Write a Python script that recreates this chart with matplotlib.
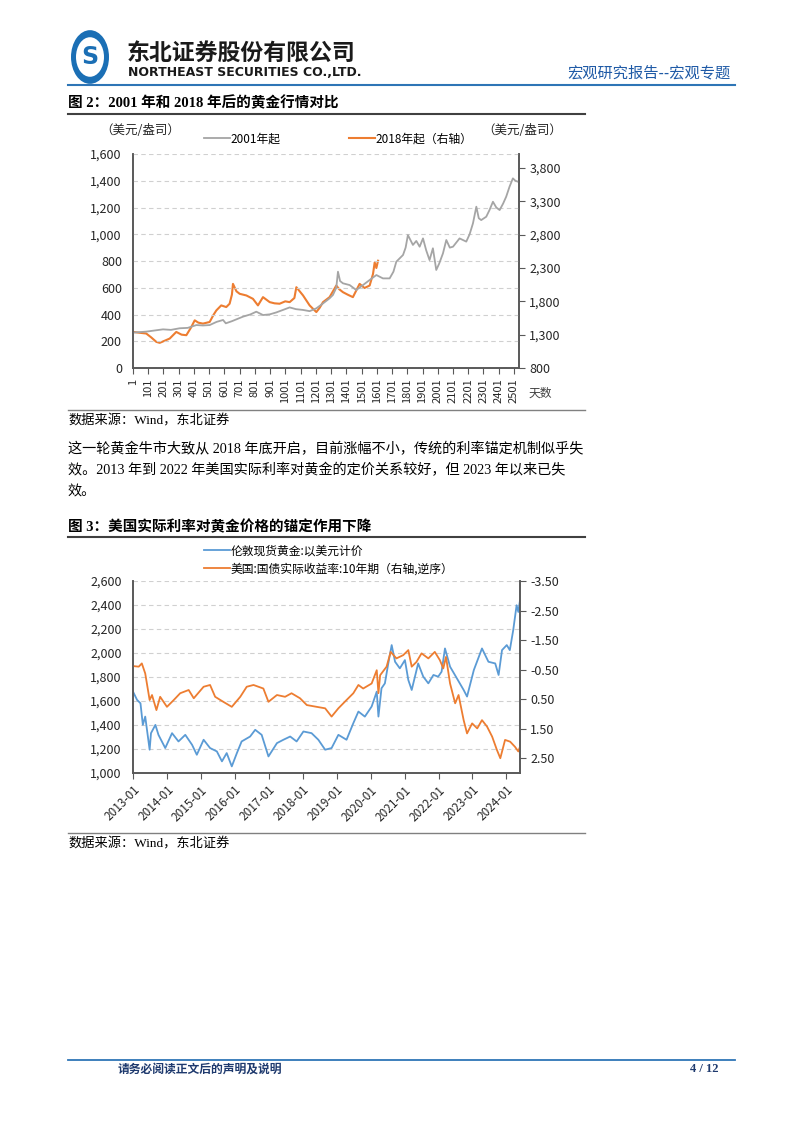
import matplotlib.pyplot as plt
import matplotlib.ticker as mticker
from matplotlib.patches import Circle
import numpy as np

plt.rcParams['font.family'] = ['Noto Sans CJK SC', 'DejaVu Sans']
plt.rcParams['axes.unicode_minus'] = False

# ---- figure 2 data: gold after 2001 vs after 2018 (trading days) ----
days_2001 = [1, 40, 88, 140, 198, 250, 307, 360, 417, 460, 504, 550, 592, 610,
             650, 723, 770, 810, 854, 898, 940, 985, 1029, 1070, 1117, 1160,
             1204, 1248, 1290, 1313, 1335, 1346, 1360, 1379, 1423, 1466, 1510,
             1554, 1598, 1641, 1685, 1710, 1729, 1773, 1790, 1805, 1838, 1860,
             1882, 1904, 1925, 1947, 1969, 1991, 2010, 2035, 2057, 2080, 2101,
             2144, 2188, 2210, 2232, 2254, 2270, 2286, 2319, 2340, 2363, 2385,
             2407, 2430, 2450, 2472, 2494, 2510, 2527]
gold_2001 = [265, 268, 272, 280, 289, 285, 297, 300, 321, 318, 321, 345, 359,
             334, 350, 384, 400, 421, 396, 401, 415, 434, 453, 440, 434, 425,
             446, 483, 520, 546, 600, 720, 650, 633, 620, 583, 620, 658, 695,
             670, 670, 720, 795, 845, 900, 994, 920, 950, 907, 969, 880, 807,
             895, 733, 780, 857, 957, 900, 907, 969, 945, 1000, 1082, 1206,
             1120, 1106, 1131, 1180, 1243, 1200, 1181, 1230, 1281, 1356, 1418,
             1400, 1393]

days_2018 = [1, 40, 88, 120, 154, 176, 210, 242, 285, 320, 351, 380, 406, 430,
             460, 504, 530, 548, 580, 613, 635, 650, 657, 680, 701, 745, 788,
             821, 854, 898, 930, 963, 1000, 1029, 1060, 1073, 1095, 1117, 1160,
             1204, 1225, 1248, 1291, 1335, 1355, 1379, 1410, 1444, 1488, 1520,
             1554, 1576, 1587, 1598, 1609]
gold_2018 = [1341, 1330, 1317, 1260, 1192, 1177, 1210, 1242, 1341, 1300, 1292,
             1400, 1515, 1480, 1466, 1490, 1600, 1664, 1739, 1714, 1764, 1900,
             2062, 1950, 1913, 1888, 1838, 1739, 1863, 1788, 1770, 1764, 1800,
             1788, 1850, 2012, 1950, 1888, 1739, 1639, 1700, 1788, 1863, 2037,
             1980, 1937, 1900, 1863, 2062, 2000, 2037, 2211, 2384, 2300, 2409]

day_ticks = list(range(1, 2502, 100))

# ---- figure 3 data: London gold vs US 10y real yield ----
t_gold = [2013.00, 2013.12, 2013.22, 2013.29, 2013.36, 2013.49, 2013.53,
          2013.66, 2013.75, 2013.95, 2014.15, 2014.34, 2014.54, 2014.74,
          2014.88, 2015.08, 2015.27, 2015.47, 2015.62, 2015.76, 2015.91,
          2016.06, 2016.20, 2016.45, 2016.60, 2016.79, 2016.99, 2017.24,
          2017.43, 2017.63, 2017.82, 2018.02, 2018.26, 2018.46, 2018.66,
          2018.85, 2019.05, 2019.29, 2019.49, 2019.64, 2019.83, 2020.03,
          2020.18, 2020.23, 2020.32, 2020.42, 2020.52, 2020.62, 2020.72,
          2020.86, 2021.01, 2021.11, 2021.21, 2021.40, 2021.55, 2021.70,
          2021.85, 2021.99, 2022.09, 2022.19, 2022.34, 2022.54, 2022.74,
          2022.84, 2023.04, 2023.28, 2023.47, 2023.67, 2023.77, 2023.87,
          2024.01, 2024.10, 2024.20, 2024.30, 2024.35, 2024.40]
gold_usd = [1678, 1609, 1581, 1401, 1470, 1194, 1332, 1401, 1318, 1208, 1332,
            1263, 1318, 1235, 1152, 1277, 1208, 1180, 1097, 1166, 1055, 1166,
            1263, 1304, 1360, 1318, 1138, 1249, 1277, 1304, 1263, 1346, 1332,
            1277, 1194, 1208, 1318, 1277, 1415, 1512, 1470, 1554, 1678, 1470,
            1706, 1747, 1913, 2066, 1927, 1872, 1941, 1775, 1692, 1913, 1803,
            1747, 1817, 1803, 1844, 2038, 1886, 1789, 1692, 1637, 1858, 2038,
            1927, 1913, 1817, 2024, 2066, 2024, 2190, 2398, 2342, 2439]

t_tips = [2013.00, 2013.17, 2013.26, 2013.36, 2013.49, 2013.56, 2013.69,
          2013.80, 2014.00, 2014.20, 2014.39, 2014.64, 2014.79, 2015.08,
          2015.27, 2015.42, 2015.66, 2015.91, 2016.16, 2016.35, 2016.55,
          2016.84, 2016.99, 2017.24, 2017.48, 2017.67, 2017.92, 2018.12,
          2018.41, 2018.66, 2018.85, 2019.05, 2019.29, 2019.49, 2019.64,
          2019.78, 2020.03, 2020.18, 2020.23, 2020.28, 2020.47, 2020.59,
          2020.76, 2020.96, 2021.11, 2021.21, 2021.35, 2021.50, 2021.70,
          2021.89, 2022.04, 2022.14, 2022.22, 2022.34, 2022.49, 2022.59,
          2022.74, 2022.84, 2022.99, 2023.14, 2023.28, 2023.43, 2023.58,
          2023.72, 2023.82, 2023.96, 2024.11, 2024.25, 2024.35, 2024.40]
tips_10y = [-0.62, -0.60, -0.71, -0.37, 0.53, 0.36, 0.87, 0.42, 0.76, 0.53,
            0.30, 0.19, 0.47, 0.08, 0.02, 0.42, 0.59, 0.76, 0.42, 0.08, 0.02,
            0.14, 0.59, 0.36, 0.42, 0.30, 0.47, 0.70, 0.76, 0.81, 1.09, 0.81,
            0.53, 0.30, 0.02, 0.14, -0.03, -0.48, 0.30, -0.31, -0.60, -1.10,
            -0.88, -0.99, -1.16, -0.60, -0.76, -1.05, -0.88, -1.10, -0.82,
            -0.54, -0.93, -0.03, 0.64, 0.36, 1.21, 1.66, 1.32, 1.49, 1.21,
            1.43, 1.77, 2.22, 2.50, 1.88, 1.94, 2.11, 2.27, 2.11]

years = list(range(2013, 2025))

GRAY = '#A5A5A5'
ORANGE = '#ED7D31'
BLUE = '#5B9BD5'
AXC = '#595959'

W, H = 802, 1133
fig = plt.figure(figsize=(W / 100, H / 100), dpi=100)


def px(x, y):
    return x / W, 1 - y / H


def hline(y, x0, x1, color, lw):
    fig.add_artist(plt.Line2D([x0 / W, x1 / W], [1 - y / H, 1 - y / H],
                              color=color, lw=lw, transform=fig.transFigure))


serif_cjk = ['Liberation Serif', 'Noto Sans CJK SC']

# ---- page header ----
fig.add_artist(Circle(px(90, 57), 19 / W, transform=fig.transFigure,
                      facecolor='#1B6FB5', edgecolor='none'))
fig.add_artist(Circle(px(90, 57), 14 / W, transform=fig.transFigure,
                      facecolor='white', edgecolor='none'))
fig.text(*px(90, 57), 'S', color='#1B6FB5', fontsize=17, fontweight='bold',
         ha='center', va='center', family='DejaVu Sans')
fig.text(*px(127, 53), '东北证券股份有限公司', fontsize=16.5, fontweight='bold',
         color='#1a1a1a', va='center')
fig.text(*px(128, 73), 'NORTHEAST SECURITIES CO.,LTD.', fontsize=9,
         fontweight='bold', color='#1a1a1a', va='center', family='DejaVu Sans')
fig.text(*px(731, 73), '宏观研究报告--宏观专题', fontsize=11, color='#1F5AA6',
         ha='right', va='center')
hline(85, 68, 735, '#2E75B6', 1.5)

# ---- figure 2 ----
fig.text(*px(68, 103), '图 2：2001 年和 2018 年后的黄金行情对比', fontsize=10.5,
         fontweight='bold', va='center', family=serif_cjk)
hline(114, 68, 585, '#404040', 1.5)

ax1 = fig.add_axes([133 / W, 1 - 368 / H, (519 - 133) / W, (368 - 154) / H])
ax1r = ax1.twinx()
l1, = ax1.plot(days_2001, gold_2001, color=GRAY, lw=1.3, label='2001年起')
l2, = ax1r.plot(days_2018, gold_2018, color=ORANGE, lw=1.5,
                label='2018年起（右轴）')
ax1.set_zorder(ax1r.get_zorder() + 1)
ax1.patch.set_visible(False)
ax1.set_xlim(1, 2534)
ax1.set_ylim(0, 1600)
ax1r.set_ylim(800, 4010)
ax1.set_yticks(range(0, 1601, 200))
ax1r.set_yticks(range(800, 3801, 500))
ax1.set_xticks(day_ticks)
ax1.set_xticklabels([str(d) for d in day_ticks], rotation=90, fontsize=8)
ax1.yaxis.set_major_formatter(mticker.StrMethodFormatter('{x:,.0f}'))
ax1r.yaxis.set_major_formatter(mticker.StrMethodFormatter('{x:,.0f}'))
ax1.grid(axis='y', color='#D0D0D0', ls=(0, (4, 3)), lw=0.8)

ax2 = fig.add_axes([133 / W, 1 - 773 / H, (520 - 133) / W, (773 - 581) / H])
ax2r = ax2.twinx()
m1, = ax2.plot(t_gold, gold_usd, color=BLUE, lw=1.3,
               label='伦敦现货黄金:以美元计价')
m2, = ax2r.plot(t_tips, tips_10y, color=ORANGE, lw=1.3,
                label='美国:国债实际收益率:10年期（右轴,逆序）')
ax2.set_xlim(2013.0, 2024.4)
ax2.set_ylim(1000, 2600)
ax2r.set_ylim(3.0, -3.5)
ax2.set_yticks(range(1000, 2601, 200))
ax2r.set_yticks(np.arange(-3.5, 2.6, 1.0))
ax2.set_xticks(years)
ax2.set_xticklabels([f'{y}-01' for y in years], rotation=45, ha='right',
                    rotation_mode='anchor', fontsize=8.5)
ax2.yaxis.set_major_formatter(mticker.StrMethodFormatter('{x:,.0f}'))
ax2r.yaxis.set_major_formatter(mticker.StrMethodFormatter('{x:.2f}'))
ax2.grid(axis='y', color='#D0D0D0', ls=(0, (4, 3)), lw=0.8)

for a in (ax1, ax1r, ax2, ax2r):
    a.spines['top'].set_visible(False)
    for s in ('left', 'right', 'bottom'):
        a.spines[s].set_color(AXC)
        a.spines[s].set_linewidth(1.2)
    a.tick_params(colors='#262626', labelsize=9, length=4, color=AXC)
for a in (ax1, ax2):
    a.tick_params(axis='y', length=0, pad=8)
ax1.tick_params(axis='x', labelsize=8)
ax2.tick_params(axis='x', labelsize=8.5)

# chart 1 annotations
fig.text(*px(140, 131), '（美元/盎司）', fontsize=9, ha='center', va='center',
         color='#262626')
fig.text(*px(522, 131), '（美元/盎司）', fontsize=9, ha='center', va='center',
         color='#262626')
fig.text(*px(540, 393), '天数', fontsize=8.5, ha='center', va='center',
         color='#404040')
fig.legend(handles=[l1], loc='center left', bbox_to_anchor=px(193, 139),
           frameon=False, fontsize=8.5, handlelength=2.2, handletextpad=0.1)
fig.legend(handles=[l2], loc='center left', bbox_to_anchor=px(338, 139),
           frameon=False, fontsize=8.5, handlelength=2.2, handletextpad=0.1)

hline(410, 68, 585, '#808080', 1.0)
fig.text(*px(68, 421), '数据来源：Wind，东北证券', fontsize=9.5, va='center',
         family=serif_cjk)

# ---- body text ----
body = ['这一轮黄金牛市大致从 2018 年底开启，目前涨幅不小，传统的利率锚定机制似乎失',
        '效。2013 年到 2022 年美国实际利率对黄金的定价关系较好，但 2023 年以来已失',
        '效。']
for i, line in enumerate(body):
    fig.text(*px(68, 449 + 21.5 * i), line, fontsize=10.2, va='center',
             family=serif_cjk)

# ---- figure 3 ----
fig.text(*px(68, 527), '图 3：美国实际利率对黄金价格的锚定作用下降', fontsize=10.5,
         fontweight='bold', va='center', family=serif_cjk)
hline(537, 68, 585, '#404040', 1.5)
fig.legend(handles=[m1], loc='center left', bbox_to_anchor=px(193, 551),
           frameon=False, fontsize=8.5, handlelength=2.2, handletextpad=0.1)
fig.legend(handles=[m2], loc='center left', bbox_to_anchor=px(193, 569),
           frameon=False, fontsize=8.5, handlelength=2.2, handletextpad=0.1)

hline(833, 68, 585, '#808080', 1.0)
fig.text(*px(68, 844), '数据来源：Wind，东北证券', fontsize=9.5, va='center',
         family=serif_cjk)

# ---- footer ----
hline(1060, 68, 735, '#2E75B6', 1.3)
fig.text(*px(118, 1069), '请务必阅读正文后的声明及说明', fontsize=8.5,
         fontweight='bold', color='#1F3A6E', va='center')
fig.text(*px(718, 1069), '4 / 12', fontsize=9, fontweight='bold',
         color='#1F3A6E', ha='right', va='center', family='Liberation Serif')

fig.savefig('out.png', dpi=100)
